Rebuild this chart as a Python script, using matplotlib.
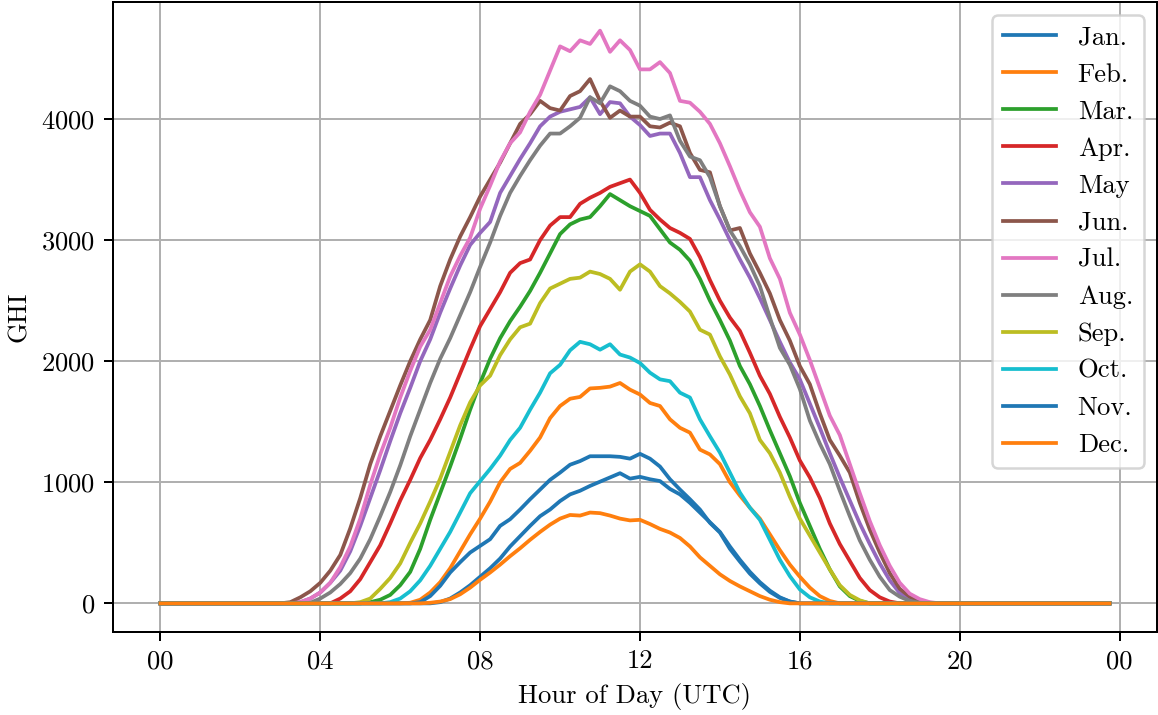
import numpy as np
import matplotlib
matplotlib.use('Agg')
import matplotlib.pyplot as plt

# LaTeX-like look with the Computer Modern font shipped in matplotlib
plt.rcParams['font.family'] = 'serif'
plt.rcParams['font.serif'] = ['cmr10']
plt.rcParams['mathtext.fontset'] = 'cm'
plt.rcParams['axes.formatter.use_mathtext'] = True
plt.rcParams['font.size'] = 10.65

# 15 minute steps over one day (UTC hours)
hours = np.arange(0, 24, 0.25)

month_names = ['Jan.', 'Feb.', 'Mar.', 'Apr.', 'May', 'Jun.',
               'Jul.', 'Aug.', 'Sep.', 'Oct.', 'Nov.', 'Dec.']

# hour of the first value in each list, zeros outside the lists
start_hours = [7.0, 6.25, 5.25, 4.5, 3.5, 3.25, 3.5, 3.75, 5.0, 5.75, 6.5, 6.75]

jan = [10, 40, 90, 150, 220, 290, 370, 470, 555, 640, 720, 775, 845, 900, 930, 970,
       1005, 1040, 1075, 1030, 1045, 1025, 1010, 945, 900, 830, 750, 670, 590, 470,
       360, 260, 175, 105, 50, 15]
feb = [5, 30, 90, 175, 290, 430, 570, 700, 840, 1000, 1110, 1160, 1260, 1370, 1530,
       1630, 1690, 1705, 1775, 1780, 1790, 1820, 1765, 1725, 1655, 1630, 1520, 1450,
       1410, 1270, 1230, 1150, 1000, 890, 790, 700, 570, 440, 320, 220, 130, 60, 20]
mar = [10, 30, 70, 150, 260, 450, 690, 910, 1130, 1360, 1600, 1820, 2020, 2190, 2330,
       2450, 2580, 2730, 2890, 3050, 3130, 3170, 3190, 3280, 3380, 3330, 3280, 3240,
       3200, 3090, 2980, 2920, 2830, 2680, 2500, 2340, 2170, 1960, 1810, 1630, 1430,
       1240, 1050, 830, 640, 450, 280, 140, 60, 20]
apr = [40, 100, 200, 340, 480, 660, 850, 1020, 1200, 1350, 1520, 1700, 1900, 2100,
       2290, 2430, 2570, 2730, 2810, 2840, 3000, 3120, 3190, 3190, 3300, 3350, 3390,
       3440, 3470, 3500, 3390, 3250, 3170, 3100, 3060, 3010, 2860, 2670, 2500, 2360,
       2250, 2070, 1880, 1730, 1540, 1370, 1180, 1040, 870, 660, 490, 350, 210, 110,
       50, 15]
may = [10, 40, 90, 170, 270, 430, 640, 870, 1100, 1340, 1570, 1780, 2000, 2180, 2400,
       2600, 2790, 2960, 3060, 3150, 3390, 3530, 3670, 3800, 3940, 4020, 4060, 4080,
       4100, 4180, 4040, 4140, 4130, 4020, 3950, 3860, 3880, 3880, 3720, 3520, 3520,
       3330, 3170, 3000, 2840, 2690, 2520, 2340, 2160, 1990, 1850, 1650, 1450, 1240,
       1040, 850, 660, 490, 330, 190, 85, 35, 10]
jun = [10, 50, 100, 170, 270, 400, 620, 870, 1150, 1380, 1590, 1800, 2000, 2180, 2340,
       2620, 2840, 3030, 3190, 3360, 3500, 3640, 3800, 3960, 4040, 4150, 4090, 4070,
       4190, 4230, 4330, 4150, 4010, 4070, 4020, 4020, 3940, 3930, 3970, 3940, 3720,
       3580, 3560, 3280, 3080, 3100, 2890, 2730, 2560, 2340, 2170, 1960, 1810, 1570,
       1350, 1220, 1080, 830, 610, 420, 250, 120, 55, 20, 5]
jul = [10, 40, 90, 170, 300, 470, 700, 980, 1230, 1450, 1700, 1920, 2120, 2260, 2480,
       2700, 2870, 3020, 3260, 3450, 3650, 3800, 3890, 4060, 4200, 4400, 4600, 4560,
       4650, 4620, 4730, 4555, 4650, 4570, 4410, 4410, 4470, 4380, 4150, 4135, 4060,
       3960, 3800, 3610, 3410, 3230, 3110, 2850, 2680, 2400, 2220, 2010, 1780, 1550,
       1390, 1150, 910, 680, 480, 310, 170, 80, 35, 10]
aug = [5, 40, 90, 160, 250, 370, 530, 720, 920, 1140, 1380, 1600, 1820, 2020, 2190,
       2380, 2570, 2780, 2980, 3200, 3390, 3530, 3660, 3780, 3880, 3880, 3940, 4010,
       4180, 4130, 4270, 4230, 4150, 4110, 4020, 4000, 4030, 3820, 3690, 3660, 3520,
       3280, 3080, 2950, 2800, 2620, 2360, 2110, 1970, 1770, 1510, 1320, 1150, 930,
       720, 520, 360, 220, 110, 55, 20, 5]
sep = [10, 40, 120, 210, 330, 500, 660, 840, 1030, 1250, 1470, 1660, 1800, 1880, 2050,
       2180, 2280, 2310, 2480, 2600, 2640, 2680, 2690, 2740, 2720, 2680, 2590, 2740,
       2800, 2740, 2620, 2560, 2490, 2410, 2260, 2220, 2040, 1890, 1710, 1570, 1350,
       1240, 1080, 880, 700, 560, 420, 280, 150, 70, 25]
oct_ = [10, 40, 100, 190, 310, 450, 590, 750, 910, 1010, 1110, 1220, 1350, 1450, 1600,
        1740, 1900, 1970, 2090, 2160, 2140, 2095, 2140, 2055, 2030, 1985, 1905, 1850,
        1835, 1740, 1700, 1520, 1380, 1245, 1080, 915, 790, 690, 525, 360, 225, 115,
        50, 15]
nov = [10, 60, 145, 255, 340, 420, 475, 530, 640, 695, 775, 860, 940, 1020, 1080, 1145,
       1175, 1215, 1215, 1215, 1210, 1195, 1235, 1195, 1130, 1025, 940, 860, 775, 665,
       585, 450, 345, 245, 165, 95, 45, 15]
dec = [5, 15, 35, 75, 130, 195, 255, 320, 390, 455, 525, 590, 650, 700, 730, 725, 750,
       745, 725, 700, 685, 690, 655, 615, 585, 540, 470, 380, 310, 240, 185, 140, 100,
       60, 30, 10]

series = [jan, feb, mar, apr, may, jun, jul, aug, sep, oct_, nov, dec]

fig = plt.figure(figsize=(1158 / 180, 715 / 180), dpi=180)
ax = fig.add_axes([113 / 1158, 1 - 632 / 715, 1044 / 1158, 630 / 715])

for name, h0, vals in zip(month_names, start_hours, series):
    day = np.zeros(len(hours))
    i0 = int(round(h0 * 4))
    day[i0:i0 + len(vals)] = vals
    ax.plot(hours, day, label=name)

ax.set_xticks([0, 4, 8, 12, 16, 20, 24])
ax.set_xticklabels(['00', '04', '08', '12', '16', '20', '00'])
ax.set_yticks([0, 1000, 2000, 3000, 4000])
ax.grid(True)
ax.set_xlabel('Hour of Day (UTC)')
ax.set_ylabel('GHI')
ax.legend(loc='upper right')

fig.savefig('out.png', dpi=180)
